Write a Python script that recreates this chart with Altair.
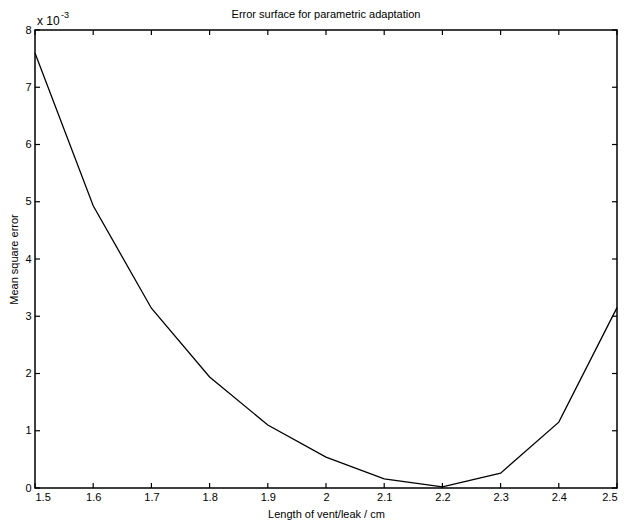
import altair as alt
import pandas as pd

lengths = [1.5, 1.6, 1.7, 1.8, 1.9, 2.0, 2.1, 2.2, 2.3, 2.4, 2.5]
mse_e3 = [7.6, 4.93, 3.14, 1.94, 1.10, 0.54, 0.16, 0.02, 0.26, 1.15, 3.15]
x_ticks = [1.5, 1.6, 1.7, 1.8, 1.9, 2.0, 2.1, 2.2, 2.3, 2.4, 2.5]
y_ticks = [0, 1, 2, 3, 4, 5, 6, 7, 8]
title_text = "Error surface for parametric adaptation"

W, H = 582, 458
FONT = "Liberation Sans"

df = pd.DataFrame({"len": lengths, "mse": mse_e3})
xt = pd.DataFrame({"len": x_ticks})
yt = pd.DataFrame({"mse": y_ticks})

xs = alt.Scale(domain=[1.5, 2.5], nice=False, zero=False)
ys = alt.Scale(domain=[0, 8], nice=False)
x_axis = alt.Axis(values=x_ticks, ticks=False, domain=False, grid=False,
                  labelExpr="datum.value == 2 ? '2' : format(datum.value, '.1f')",
                  labelPadding=3, titlePadding=6)
y_axis = alt.Axis(values=y_ticks, ticks=False, domain=False, grid=False,
                  labelPadding=4, titlePadding=5)
X = alt.X("len:Q", scale=xs, title="Length of vent/leak / cm", axis=x_axis)
Y = alt.Y("mse:Q", scale=ys, title="Mean square error", axis=y_axis)

line = alt.Chart(df).mark_line(color="black", strokeWidth=1.3).encode(x=X, y=Y)

tick_w = 1.2
bot = alt.Chart(xt).mark_rule(color="black", strokeWidth=tick_w).encode(
    x=X, y=alt.value(H), y2=alt.value(H - 5))
top = alt.Chart(xt).mark_rule(color="black", strokeWidth=tick_w).encode(
    x=X, y=alt.value(0), y2=alt.value(5))
left = alt.Chart(yt).mark_rule(color="black", strokeWidth=tick_w).encode(
    y=Y, x=alt.value(0), x2=alt.value(5))
right = alt.Chart(yt).mark_rule(color="black", strokeWidth=tick_w).encode(
    y=Y, x=alt.value(W), x2=alt.value(W - 5))

ttl = alt.Chart(pd.DataFrame({"s": [title_text]})).mark_text(
    font=FONT, fontSize=11, align="center", baseline="middle", color="black").encode(
    text="s:N", x=alt.value(W / 2), y=alt.value(-15))
mult = alt.Chart(pd.DataFrame({"s": ["x 10"]})).mark_text(
    font=FONT, fontSize=12, align="left", baseline="alphabetic", color="black").encode(
    text="s:N", x=alt.value(2), y=alt.value(-5))
expo = alt.Chart(pd.DataFrame({"s": ["-3"]})).mark_text(
    font=FONT, fontSize=9, align="left", baseline="alphabetic", color="black").encode(
    text="s:N", x=alt.value(26), y=alt.value(-12))

chart = alt.layer(line, bot, top, left, right, ttl, mult, expo).properties(
    width=W, height=H,
    background="white",
    autosize=alt.AutoSizeParams(type="none"),
    padding={"left": 35, "top": 30, "right": 9, "bottom": 35},
).configure_view(stroke="black", strokeWidth=1.5).configure_axis(
    labelFont=FONT, labelFontSize=11, labelColor="black",
    titleFont=FONT, titleFontSize=11, titleFontWeight="normal", titleColor="black",
)

chart.save("out.html", embed_options={"renderer": "svg", "actions": False})
